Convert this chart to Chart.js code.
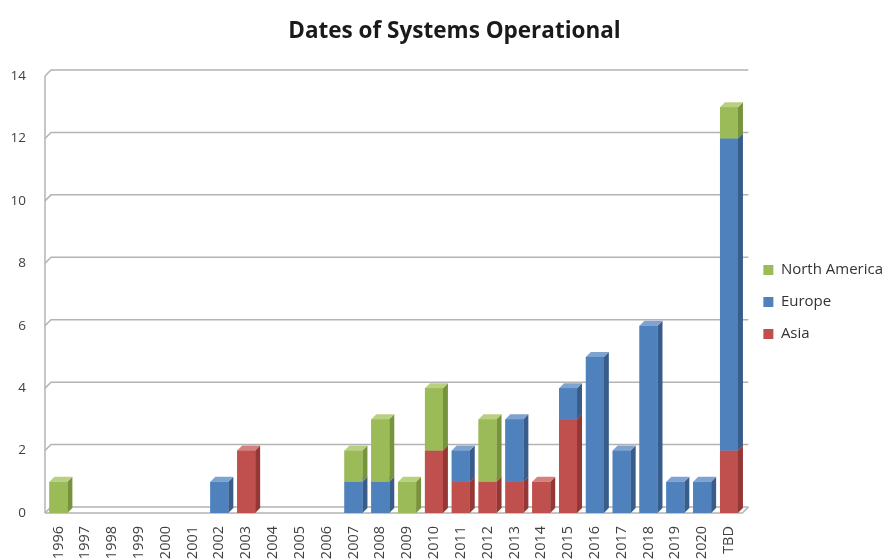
<!DOCTYPE html>
<html>
<head>
<meta charset="utf-8">
<script src="https://cdn.jsdelivr.net/npm/chart.js@4"></script>
<style>
html,body{margin:0;padding:0;background:#fff;}
#wrap{width:889px;height:560px;}
</style>
</head>
<body>
<div id="wrap"><canvas id="c" width="889" height="560"></canvas></div>
<script>
const categories = ['1996','1997','1998','1999','2000','2001','2002','2003','2004','2005','2006','2007','2008','2009','2010','2011','2012','2013','2014','2015','2016','2017','2018','2019','2020','TBD'];
const asia         = [0,0,0,0,0,0,0,2,0,0,0,0,0,0,2,1,1,1,1,3,0,0,0,0,0,2];
const europe       = [0,0,0,0,0,0,1,0,0,0,0,1,1,0,0,1,0,2,0,1,5,2,6,1,1,10];
const northAmerica = [1,0,0,0,0,0,0,0,0,0,0,1,2,1,2,0,2,0,0,0,0,0,0,0,0,1];
const yTicks = [0,2,4,6,8,10,12,14];

const COLORS = {
  na:   {front:'#9BBB59', side:'#77933C', top:'#B8D07F'},
  eu:   {front:'#4F81BD', side:'#385D8A', top:'#7FA3D1'},
  asia: {front:'#C0504D', side:'#953735', top:'#D48280'}
};
const GRID_DEPTH = 6;
const BAR_DEPTH = 5;
const LEGEND_DX = 4;
const LEGEND_DY = 22;
const TITLE_DX = 10;

const wallPlugin = {
  id: 'wall',
  beforeDatasetsDraw(chart) {
    const {ctx, chartArea} = chart;
    const y = chart.scales.y;
    const d = GRID_DEPTH;
    ctx.save();
    ctx.strokeStyle = '#B3B3B3';
    ctx.lineWidth = 1.5;
    yTicks.forEach(v => {
      const py = y.getPixelForValue(v);
      ctx.beginPath();
      ctx.moveTo(chartArea.left, py);
      ctx.lineTo(chartArea.left + d, py - d);
      ctx.lineTo(chartArea.right + d, py - d);
      ctx.stroke();
    });
    ctx.beginPath();
    ctx.moveTo(chartArea.left, y.getPixelForValue(14));
    ctx.lineTo(chartArea.left, y.getPixelForValue(0));
    ctx.stroke();
    const p0 = y.getPixelForValue(0);
    ctx.beginPath();
    ctx.moveTo(chartArea.left, p0);
    ctx.lineTo(chartArea.right, p0);
    ctx.lineTo(chartArea.right + d, p0 - d);
    ctx.stroke();
    ctx.restore();
  }
};

const bar3dPlugin = {
  id: 'bar3d',
  afterDatasetsDraw(chart) {
    const {ctx} = chart;
    const d = BAR_DEPTH;
    ctx.save();
    chart.data.datasets.forEach((ds, i) => {
      const meta = chart.getDatasetMeta(i);
      if (meta.hidden) return;
      const col = ds._shade;
      meta.data.forEach((el, j) => {
        if (!ds.data[j]) return;
        const p = el.getProps(['x','y','base','width'], true);
        const l = p.x - p.width / 2, r = p.x + p.width / 2;
        const t = Math.min(p.y, p.base), b = Math.max(p.y, p.base);
        ctx.fillStyle = col.side;
        ctx.beginPath();
        ctx.moveTo(r, t); ctx.lineTo(r + d, t - d); ctx.lineTo(r + d, b - d); ctx.lineTo(r, b);
        ctx.closePath(); ctx.fill();
        ctx.fillStyle = col.top;
        ctx.beginPath();
        ctx.moveTo(l, t); ctx.lineTo(l + d, t - d); ctx.lineTo(r + d, t - d); ctx.lineTo(r, t);
        ctx.closePath(); ctx.fill();
        ctx.fillStyle = col.front;
        ctx.fillRect(l, t, r - l, b - t);
      });
    });
    ctx.restore();
  }
};

const shiftPlugin = {
  id: 'shift',
  afterLayout(chart) {
    if (chart.titleBlock) { chart.titleBlock.left += TITLE_DX; chart.titleBlock.right += TITLE_DX; }
    const lg = chart.legend;
    if (lg) { lg.left += LEGEND_DX; lg.right += LEGEND_DX; lg.top += LEGEND_DY; lg.bottom += LEGEND_DY; }
  }
};

new Chart(document.getElementById('c'), {
  type: 'bar',
  data: {
    labels: categories,
    datasets: [
      {label: 'Asia', data: asia, backgroundColor: COLORS.asia.front, _shade: COLORS.asia},
      {label: 'Europe', data: europe, backgroundColor: COLORS.eu.front, _shade: COLORS.eu},
      {label: 'North America', data: northAmerica, backgroundColor: COLORS.na.front, _shade: COLORS.na}
    ]
  },
  options: {
    responsive: false,
    animation: false,
    layout: {padding: {left: 0, right: 0, top: 0, bottom: 0}},
    datasets: {bar: {barPercentage: 0.67, categoryPercentage: 1.0}},
    plugins: {
      title: {
        display: true,
        text: 'Dates of Systems Operational',
        color: '#1a1a1a',
        font: {family: 'Open Sans', size: 22.5, weight: 'bold'},
        padding: {top: 18, bottom: 31}
      },
      legend: {
        position: 'right',
        reverse: true,
        labels: {
          boxWidth: 10, boxHeight: 10, padding: 17,
          color: '#333333',
          font: {family: 'Open Sans', size: 15}
        }
      },
      tooltip: {enabled: false}
    },
    scales: {
      x: {
        stacked: true,
        grid: {display: false, drawTicks: false},
        border: {display: false},
        ticks: {
          minRotation: 90, maxRotation: 90, autoSkip: false, padding: 13,
          color: '#404040', font: {family: 'Open Sans', size: 14.5}
        },
        afterFit(s) { s.height = 47; }
      },
      y: {
        stacked: true,
        min: 0, max: 14,
        grid: {display: false, drawTicks: false},
        border: {display: false},
        ticks: {
          stepSize: 2, padding: 19,
          color: '#404040', font: {family: 'Open Sans', size: 13.5}
        },
        afterFit(s) { s.width = 45; }
      }
    }
  },
  plugins: [wallPlugin, bar3dPlugin, shiftPlugin]
});
</script>
</body>
</html>
